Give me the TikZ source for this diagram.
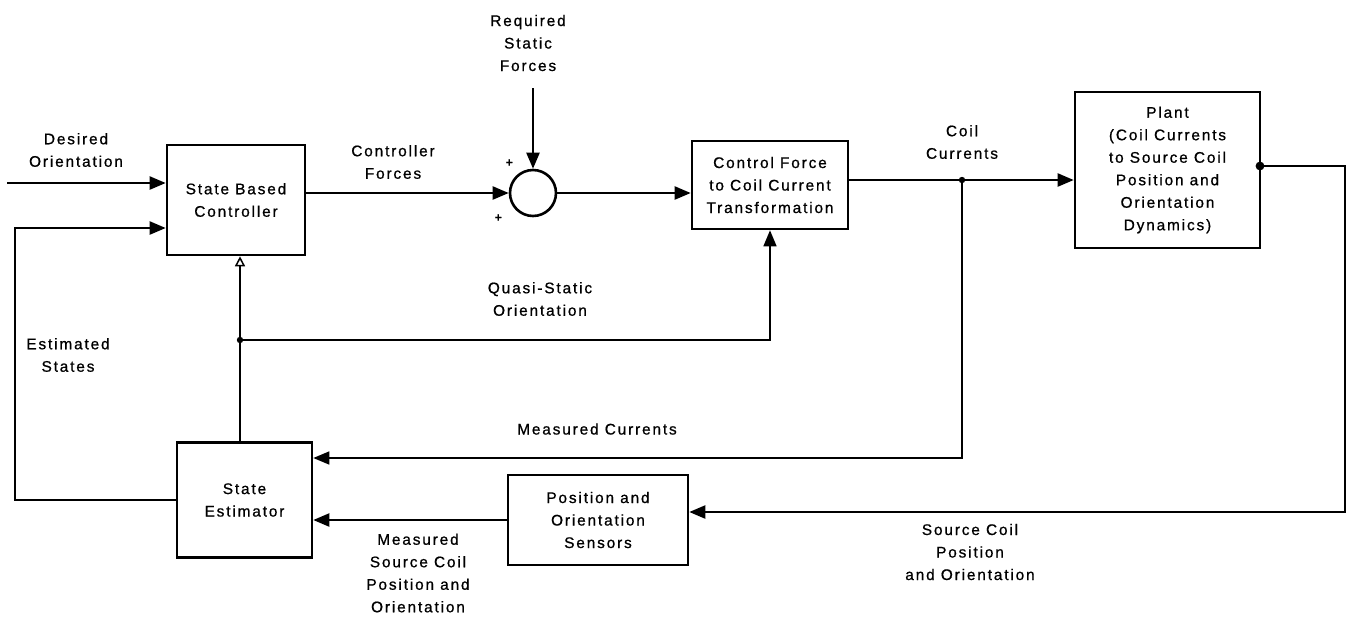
\documentclass[tikz,border=0pt]{standalone}
\usepackage{fontspec}
\setmainfont{Liberation Sans}[LetterSpace=12,FakeBold=0.8]
\usetikzlibrary{arrows.meta}
\begin{document}
\begin{tikzpicture}[x=0.5pt,y=-0.5pt,
  every node/.style={font=\fontsize{7.7}{11.25}\selectfont,align=center},
  blok/.style={draw,line width=1.3pt,inner sep=0pt},
  fat/.style={line width=1.1pt},
  slim/.style={line width=0.75pt},
  arr/.style={-{Triangle[length=8pt,width=6.5pt]}},
  oarr/.style={-{Triangle[open,length=5pt,width=5pt]}}]
\useasboundingbox (0,0) rectangle (1357,622);
\node[blok,minimum width=69pt,minimum height=55pt] (ctrl) at (236,200) {State Based\\Controller};
\node[blok,minimum width=78pt,minimum height=44pt] (cfc) at (770,185) {Control Force\\to Coil Current\\Transformation};
\node[blok,minimum width=92.5pt,minimum height=78pt] (plant) at (1167.5,170) {Plant\\(Coil Currents\\to Source Coil\\Position and\\Orientation\\Dynamics)};
\node[blok,minimum width=67.5pt,minimum height=57.5pt] (est) at (244.5,500) {State\\Estimator};
\node[blok,minimum width=90pt,minimum height=45pt] (pos) at (598,520) {Position and\\Orientation\\Sensors};
\node[draw,circle,line width=1.3pt,minimum size=23pt,inner sep=0pt] (sum) at (533,193) {};
\node (plusa) at (510,163) {\fontsize{6}{6}\selectfont\textbf{+}};
\node (plusb) at (499,218) {\fontsize{6}{6}\selectfont\textbf{+}};
\node (desired) at (76,150) {Desired\\Orientation};
\node (cforces) at (393,162) {Controller\\Forces};
\node (reqf) at (528,43) {Required\\Static\\Forces};
\node (coilc) at (962,142) {Coil\\Currents};
\node (qso) at (540,299) {Quasi-Static\\Orientation};
\node (eststates) at (68,355) {Estimated\\States};
\node (meascur) at (597,429) {Measured Currents};
\node (meassrc) at (418,573) {Measured\\Source Coil\\Position and\\Orientation};
\node (srcpos) at (970,552) {Source Coil\\Position\\and Orientation};
\coordinate (din) at (7,183);
\coordinate (loopin) at (15,228);
\coordinate (reqin) at (533,88);
\coordinate (cj) at (962,180);
\coordinate (pout) at (1260,166);
\coordinate (rc) at (1345,512);
\coordinate (mc) at (962,458);
\coordinate (jq) at (240,340);
\draw[fat,arr] (din) -- (din -| ctrl.west);
\draw[fat,arr] (est.west) -| (loopin) -- (loopin -| ctrl.west);
\draw[fat,arr] (ctrl.east |- sum) -- (sum.west);
\draw[fat,arr] (reqin) -- (sum.north);
\draw[fat,arr] (sum.east) -- (sum.east -| cfc.west);
\draw[fat,arr] (cfc.east |- cj) -- (cj -| plant.west);
\draw[slim,arr] (cj) |- (mc -| est.east);
\draw[fat,arr] (pout) -| (rc) -- (rc -| pos.east);
\draw[fat,arr] (pos.west) -- (pos.west -| est.east);
\draw[slim] (jq |- est.north) -- (jq);
\draw[slim,oarr] (jq) -- (jq |- ctrl.south);
\draw[slim,arr] (jq) -| (cfc.south);
\fill (cj) circle (1.6pt);
\fill (pout) circle (2.2pt);
\fill (jq) circle (1.6pt);
\end{tikzpicture}
\end{document}
